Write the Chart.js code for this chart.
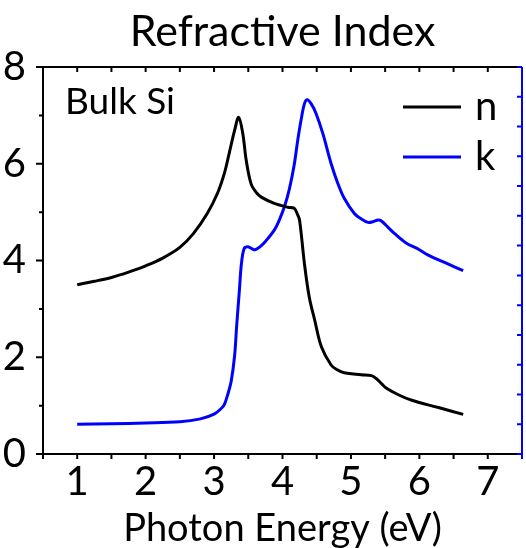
<!DOCTYPE html>
<html>
<head>
<meta charset="utf-8">
<script src="https://cdn.jsdelivr.net/npm/chart.js@4"></script>
<style>
  html, body { margin: 0; padding: 0; background: #fff; }
  #wrap { width: 526px; height: 548px; }
</style>
</head>
<body>
<div id="wrap"><canvas id="ri-chart"></canvas></div>
<script>
// Bulk Si optical constants
const energyN = [1.0, 1.25, 1.5, 1.75, 2.0, 2.25, 2.5, 2.7, 2.9, 3.05, 3.15, 3.22, 3.3, 3.36, 3.42, 3.47, 3.54, 3.62, 3.69, 3.88, 4.08, 4.17, 4.22, 4.25, 4.32, 4.39, 4.47, 4.57, 4.71, 4.8, 4.9, 5.15, 5.3, 5.37, 5.45, 5.52, 5.7, 5.89, 6.28, 6.64];
const nValues = [3.50, 3.57, 3.65, 3.76, 3.89, 4.05, 4.27, 4.56, 4.97, 5.39, 5.80, 6.21, 6.69, 6.96, 6.62, 6.07, 5.59, 5.40, 5.31, 5.18, 5.10, 5.08, 4.95, 4.83, 3.94, 3.25, 2.77, 2.21, 1.84, 1.74, 1.68, 1.64, 1.62, 1.56, 1.45, 1.36, 1.22, 1.11, 0.96, 0.82];

const energyK = [1.0, 1.5, 2.0, 2.5, 2.8, 3.0, 3.1, 3.15, 3.2, 3.25, 3.3, 3.33, 3.37, 3.4, 3.44, 3.49, 3.55, 3.6, 3.67, 3.75, 3.88, 3.95, 4.03, 4.1, 4.17, 4.22, 4.27, 4.32, 4.36, 4.42, 4.49, 4.59, 4.71, 4.81, 4.9, 5.05, 5.15, 5.25, 5.32, 5.4, 5.45, 5.54, 5.64, 5.8, 6.0, 6.13, 6.4, 6.64];
const kValues = [0.00, 0.01, 0.02, 0.04, 0.09, 0.17, 0.26, 0.33, 0.50, 0.72, 1.15, 1.65, 2.25, 2.70, 2.95, 2.98, 2.95, 2.93, 2.98, 3.07, 3.26, 3.42, 3.66, 3.95, 4.35, 4.75, 5.10, 5.38, 5.45, 5.38, 5.22, 4.88, 4.38, 4.04, 3.80, 3.54, 3.45, 3.39, 3.40, 3.43, 3.41, 3.31, 3.20, 3.05, 2.93, 2.84, 2.70, 2.58];

const xLabels = [1, 2, 3, 4, 5, 6, 7];
const yLabels = [0, 2, 4, 6, 8];
const seriesNames = ['n', 'k'];

const FONT = 'Lato, "Open Sans", sans-serif';
const BLUE = '#0000ff';

const toPoints = (xs, ys) => xs.map((x, i) => ({ x, y: ys[i] }));

// frame, ticks, title, legend and inset label
const framePlugin = {
  id: 'frame',
  afterDraw(chart) {
    const { ctx, chartArea: a, scales } = chart;
    const x = scales.x, y = scales.y, y1 = scales.y1;
    ctx.save();
    ctx.lineWidth = 2;
    ctx.strokeStyle = '#000';
    ctx.beginPath();
    ctx.moveTo(a.left, a.top); ctx.lineTo(a.right, a.top);
    ctx.moveTo(a.left, a.bottom); ctx.lineTo(a.right, a.bottom);
    ctx.moveTo(a.left, a.top); ctx.lineTo(a.left, a.bottom);
    // bottom ticks (outward) and top ticks (inward)
    x.ticks.forEach((t) => {
      const px = x.getPixelForValue(t.value);
      ctx.moveTo(px, a.bottom); ctx.lineTo(px, a.bottom + 5);
      ctx.moveTo(px, a.top); ctx.lineTo(px, a.top + 5);
    });
    // left ticks: long on labelled values, short in between
    y.ticks.forEach((t) => {
      const py = y.getPixelForValue(t.value);
      const len = yLabels.includes(t.value) ? 7 : 4;
      ctx.moveTo(a.left - len, py); ctx.lineTo(a.left, py);
    });
    ctx.stroke();

    // right axis in blue, inward ticks
    ctx.strokeStyle = BLUE;
    ctx.beginPath();
    ctx.moveTo(a.right, a.top); ctx.lineTo(a.right, a.bottom + 5);
    y1.ticks.forEach((t) => {
      const py = y1.getPixelForValue(t.value);
      ctx.moveTo(a.right, py); ctx.lineTo(a.right - 5, py);
    });
    ctx.stroke();

    // title centred on the plot
    ctx.fillStyle = '#000';
    ctx.font = `43px ${FONT}`;
    ctx.textAlign = 'center';
    ctx.textBaseline = 'alphabetic';
    ctx.fillText('Refractive Index', (a.left + a.right) / 2, 46);

    // inset label
    ctx.textAlign = 'left';
    ctx.font = `37px ${FONT}`;
    ctx.fillText('Bulk Si', 65, 114);

    // legend
    const colors = chart.data.datasets.map((d) => d.borderColor);
    seriesNames.forEach((name, i) => {
      const ly = 107 + i * 50;
      ctx.strokeStyle = colors[i];
      ctx.lineWidth = 3;
      ctx.beginPath();
      ctx.moveTo(403, ly); ctx.lineTo(461, ly);
      ctx.stroke();
      ctx.fillStyle = '#000';
      ctx.font = `40px ${FONT}`;
      ctx.fillText(name, 475, ly + 13);
    });
    ctx.restore();
  },
};

new Chart(document.getElementById('ri-chart'), {
  type: 'scatter',
  data: {
    datasets: [
      {
        label: seriesNames[0],
        data: toPoints(energyN, nValues),
        showLine: true,
        borderColor: '#000',
        borderWidth: 3,
        pointRadius: 0,
        tension: 0.35,
        yAxisID: 'y',
      },
      {
        label: seriesNames[1],
        data: toPoints(energyK, kValues),
        showLine: true,
        borderColor: BLUE,
        borderWidth: 3,
        pointRadius: 0,
        tension: 0.35,
        yAxisID: 'y1',
      },
    ],
  },
  options: {
    responsive: true,
    maintainAspectRatio: false,
    animation: false,
    layout: { padding: { top: 67, right: 0, left: 0, bottom: 0 } },
    plugins: {
      legend: { display: false },
      title: { display: false },
      tooltip: { enabled: false },
    },
    scales: {
      x: {
        type: 'linear',
        min: 0.5,
        max: 7.5,
        grid: { display: false },
        border: { display: false },
        ticks: {
          stepSize: 0.5,
          autoSkip: false,
          maxRotation: 0,
          padding: -4,
          color: '#000',
          font: { family: FONT, size: 40 },
          callback: (v) => (xLabels.includes(v) ? String(v) : ''),
        },
        title: {
          display: true,
          text: 'Photon Energy (eV)',
          color: '#000',
          font: { family: FONT, size: 38 },
          padding: { top: 0, bottom: -4 },
        },
        afterFit: (s) => { s.height = 94; },
      },
      y: {
        min: 0,
        max: 8,
        grid: { display: false },
        border: { display: false },
        ticks: {
          stepSize: 1,
          autoSkip: false,
          padding: 9,
          color: '#000',
          font: { family: FONT, size: 40 },
          callback: (v) => (yLabels.includes(v) ? String(v) : ''),
        },
        afterFit: (s) => { s.width = 43; },
      },
      y1: {
        position: 'right',
        min: -0.5,
        max: 6,
        grid: { display: false },
        border: { display: false },
        ticks: { stepSize: 0.5, display: false },
        afterFit: (s) => { s.width = 4; },
      },
    },
  },
  plugins: [framePlugin],
});
</script>
</body>
</html>
